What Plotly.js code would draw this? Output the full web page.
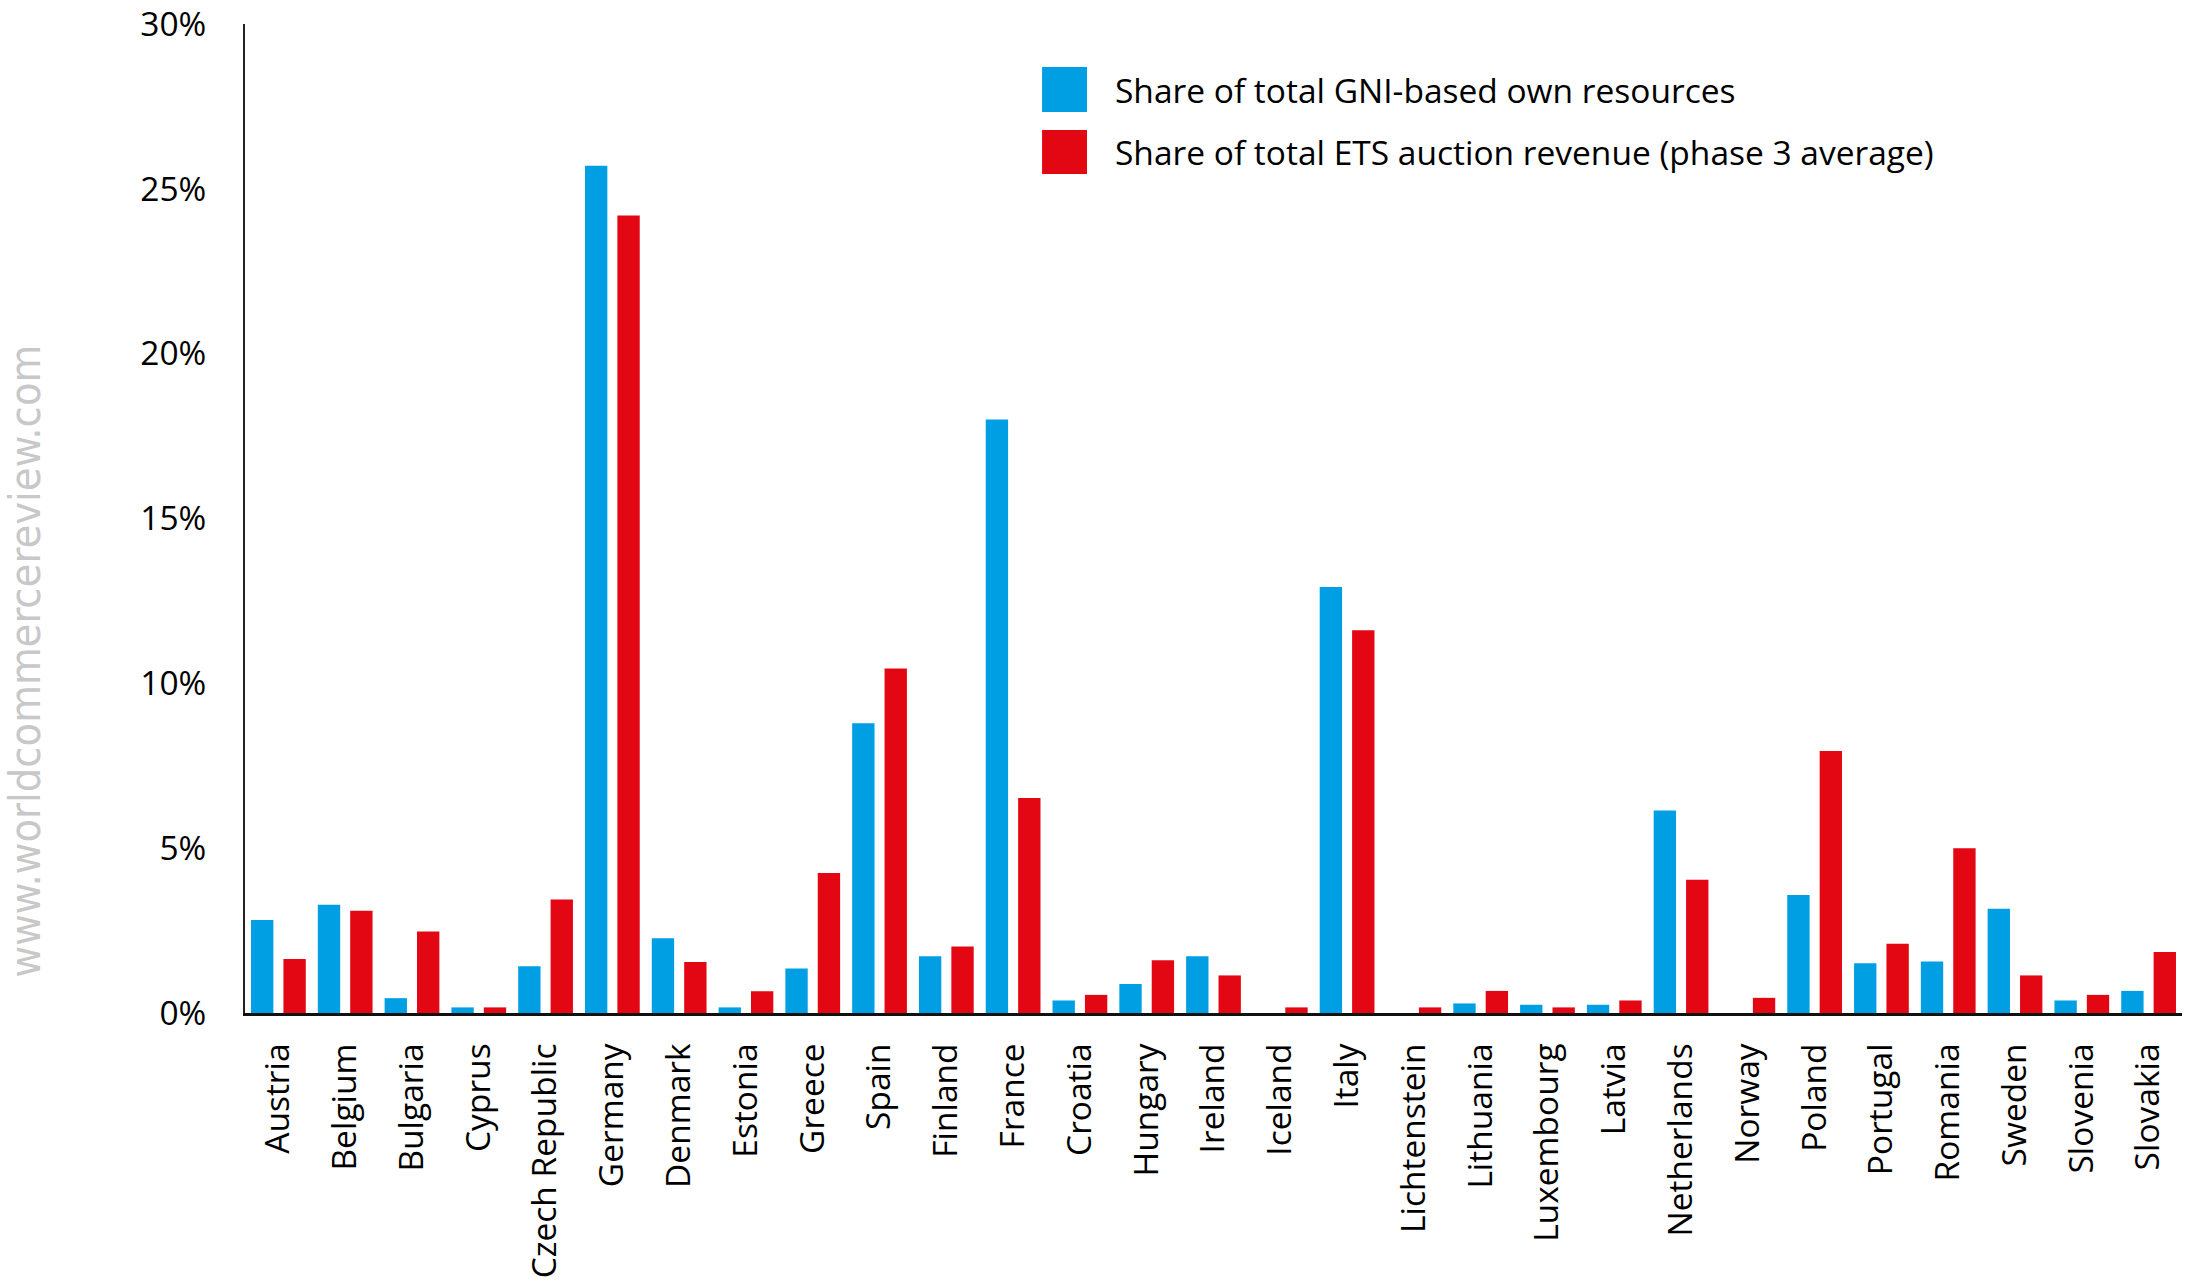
<!DOCTYPE html>
<html>
<head>
<meta charset="utf-8">
<script src="https://cdn.plot.ly/plotly-3.0.1.min.js"></script>
<style>
  html, body { margin: 0; padding: 0; background: #ffffff; }
  #chart { width: 2187px; height: 1285px; }
</style>
</head>
<body>
<div id="chart"></div>
<script>
// Member states (plus EEA countries) in the order shown on the axis
const countries = [
  "Austria", "Belgium", "Bulgaria", "Cyprus", "Czech Republic", "Germany",
  "Denmark", "Estonia", "Greece", "Spain", "Finland", "France", "Croatia",
  "Hungary", "Ireland", "Iceland", "Italy", "Lichtenstein", "Lithuania",
  "Luxembourg", "Latvia", "Netherlands", "Norway", "Poland", "Portugal",
  "Romania", "Sweden", "Slovenia", "Slovakia"
];

// Share of total GNI-based own resources (%)
const gniShare = [
  2.82, 3.28, 0.45, 0.17, 1.42, 25.7,
  2.27, 0.17, 1.35, 8.79, 1.72, 18.0, 0.38,
  0.88, 1.72, 0, 12.92, 0, 0.29,
  0.25, 0.25, 6.14, 0, 3.58, 1.51,
  1.56, 3.16, 0.38, 0.67
];

// Share of total ETS auction revenue, phase 3 average (%)
const etsShare = [
  1.64, 3.1, 2.47, 0.17, 3.44, 24.19,
  1.55, 0.66, 4.25, 10.45, 2.02, 6.52, 0.55,
  1.6, 1.14, 0.17, 11.61, 0.17, 0.67,
  0.17, 0.38, 4.04, 0.46, 7.95, 2.1,
  5.0, 1.14, 0.55, 1.85
];

const seriesNames = [
  "Share of total GNI-based own resources",
  "Share of total ETS auction revenue (phase 3 average)"
];
const seriesColors = ["#009fe3", "#e30613"];

const yTicks = [0, 5, 10, 15, 20, 25, 30];
const watermark = "www.worldcommercereview.com";

const baseFont = "'Open Sans', 'Noto Sans', sans-serif";
const textSize = 33.5;

const traces = [gniShare, etsShare].map((vals, i) => ({
  type: "bar",
  name: seriesNames[i],
  x: countries,
  y: vals,
  marker: { color: seriesColors[i], line: { width: 0 } },
  showlegend: false,
  hoverinfo: "x+y"
}));

// Legend drawn as large colour swatches with labels beside them
const swatchX0 = 0.4115, swatchX1 = 0.4347;
const swatchRows = [[0.9110, 0.9565], [0.8483, 0.8928]];
const legendShapes = swatchRows.map((r, i) => ({
  type: "rect", xref: "paper", yref: "paper",
  x0: swatchX0, x1: swatchX1, y0: r[0], y1: r[1],
  fillcolor: seriesColors[i], line: { width: 0 }
}));
const legendLabels = swatchRows.map((r, i) => ({
  xref: "paper", yref: "paper",
  x: 0.4481, y: (r[0] + r[1]) / 2,
  xanchor: "left", yanchor: "middle",
  text: seriesNames[i], showarrow: false,
  font: { family: baseFont, size: textSize, color: "#000000" }
}));

const layout = {
  width: 2187,
  height: 1285,
  paper_bgcolor: "#ffffff",
  plot_bgcolor: "#ffffff",
  margin: { l: 245, r: 5, t: 24, b: 272 },
  barmode: "group",
  bargap: 0.03,
  bargroupgap: 0.31,
  font: { family: baseFont, size: textSize, color: "#000000" },
  xaxis: {
    type: "category",
    range: [-0.5, countries.length - 0.5],
    tickangle: -90,
    ticks: "",
    showgrid: false,
    zeroline: false,
    showline: true,
    linecolor: "#111111",
    linewidth: 3,
    ticklabelstandoff: 14,
    tickfont: { family: baseFont, size: textSize, color: "#000000" }
  },
  yaxis: {
    range: [0, 30],
    tickvals: yTicks,
    ticktext: yTicks.map(v => v + "%"),
    ticks: "",
    showgrid: false,
    zeroline: false,
    showline: true,
    linecolor: "#222222",
    linewidth: 2,
    ticklabelstandoff: 30,
    ticklabeloverflow: "allow",
    tickfont: { family: baseFont, size: textSize, color: "#000000" }
  },
  shapes: legendShapes,
  annotations: legendLabels.concat([{
    xref: "paper", yref: "paper",
    x: -0.1138, y: 0.356,
    xanchor: "center", yanchor: "middle",
    text: watermark, showarrow: false, textangle: -90,
    font: { family: "'Liberation Sans Narrow', 'DejaVu Sans Condensed', sans-serif", size: 43, color: "#c8c8c8" }
  }])
};

Plotly.newPlot("chart", traces, layout, { displayModeBar: false, staticPlot: true });
</script>
</body>
</html>
